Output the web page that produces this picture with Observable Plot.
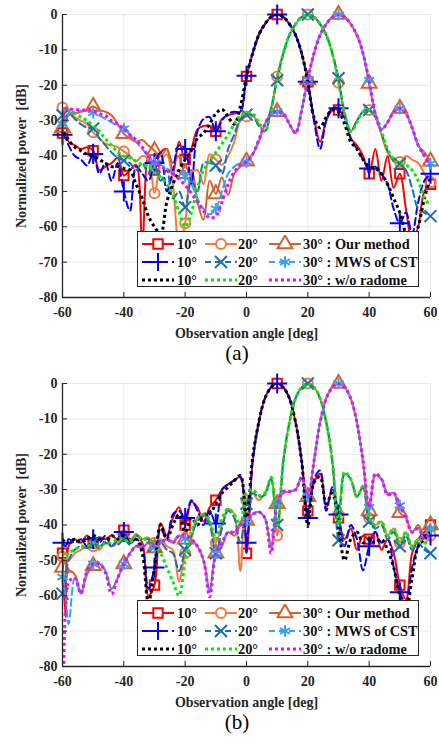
<!DOCTYPE html>
<html><head><meta charset="utf-8">
<script src="https://cdn.jsdelivr.net/npm/d3@7"></script>
<script src="https://cdn.jsdelivr.net/npm/@observablehq/plot@0.6"></script>
<style>
body{margin:0;background:#fff;font-family:"Liberation Serif","Times New Roman",serif;}
.panel{position:relative;width:439px;height:369px;}
.cap{position:absolute;left:0;width:474px;text-align:center;font-size:21px;line-height:20px;top:343px;}
.legend{position:absolute;left:137px;top:231px;width:282px;height:56px;background:#fff;border:1.2px solid #262626;box-sizing:border-box;}
.lrow{position:absolute;left:0;height:18px;width:100%;}
.ltxt{position:absolute;font-weight:bold;font-size:14.3px;line-height:18px;top:0;color:#111;white-space:nowrap;}
.lsw{position:absolute;top:0;}
</style></head><body>
<div id="pa" class="panel"></div>
<div id="pb" class="panel"></div>
<script>
// ---------- data ----------
const angles = [-60,-59,
 -58,-56,-54,-52,-50,-48,-46,-44,-42,-40,
 -38,-36,-34,-32,-30,-28,-26,-24,-22,-20,
 -18,-16,-14,-12,-10,-8,-6,-4,-2,0,
 2,4,6,8,10,12,14,16,18,20,
 22,24,26,28,30,32,34,36,38,40,
 42,44,46,48,50,52,54,56,58,60];
const xTicks = [-60,-40,-20,0,20,40,60];
const yTicks = [0,-10,-20,-30,-40,-50,-60,-70,-80];

// panel (a)
const a_our10 = [-33.5,-34,
 -36,-37,-38,-37.5,-38.5,-44,-43,-42,-40.5,-45.5,
 -44,-42.5,-65,-40,-44,-39,-38,-45,-36,-41,
 -38,-32.5,-31.5,-31.5,-33,-29.5,-28.5,-28,-27.5,-17.5,
 -11,-5.8,-2.7,-0.7,0,-0.7,-2.7,-5.8,-11,-19,
 -29,-36,-30,-27,-27,-29,-35,-37,-40,-45,
 -38,-47,-40,-49,-45,-55,-64,-60,-50,-48];
const a_our20 = [-26.3,-26.8,
 -27.5,-29,-30,-31,-33.3,-35,-36.5,-37,-37.5,-38.7,
 -40,-41.5,-40,-41,-50.5,-42,-39.5,-48,-65,-59,
 -45,-44,-48,-39.5,-41,-42.5,-40,-36,-30,-28.8,
 -28.5,-31,-33,-27,-17.5,-11,-5.8,-2.7,-0.7,0,
 -0.7,-2.7,-5.8,-11,-19.3,-28,-33,-30,-27.5,-27,
 -28.5,-34,-39,-41,-41.7,-40,-41,-42,-45,-47.4];
const a_our30 = [-32,-30,
 -28.5,-28,-27.5,-27,-26,-27,-27.5,-28.5,-31,-33.7,
 -35,-36,-35.5,-37,-38.5,-40,-38,-42,-40,-45,
 -44,-53,-58,-47,-50.7,-46,-51,-45,-43,-41.5,
 -39.5,-36,-31,-28,-27.5,-28,-31,-33.5,-27,-18.5,
 -11,-5.8,-2.7,-0.7,0,-0.7,-2.7,-5.8,-11,-19.5,
 -28,-32.5,-30.5,-27.5,-26.6,-28,-32,-37,-39,-41.5];
const a_cst10 = [-34,-35,
 -37,-40,-41,-42.7,-39.4,-45,-42,-47,-42,-50,
 -55.5,-43,-45,-47,-42,-39,-50,-44,-37,-38,
 -48,-33,-29.5,-29,-33,-30,-28,-27.5,-27.5,-17.3,
 -11,-5.8,-2.7,-0.7,0,-0.7,-2.7,-5.8,-11,-19,
 -30,-38,-30,-26.5,-26.5,-29,-35,-38,-41,-43.5,
 -43,-45,-48,-55,-59,-56,-62,-53,-47,-45];
const a_cst20 = [-28.5,-28.8,
 -28,-29.5,-31,-32,-32.2,-35,-37,-39,-40.5,-41.3,
 -42,-44,-42,-45,-43,-47,-44,-52,-50,-54.5,
 -47,-50,-42,-42,-42.7,-45,-38,-34,-29.5,-28.3,
 -28.5,-31.5,-33,-26.5,-18.6,-11,-5.8,-2.7,-0.7,0,
 -0.7,-2.7,-5.8,-11,-18,-28,-33,-30,-27.5,-27,
 -29,-33.5,-38.5,-41.5,-42.2,-44,-49,-55,-56,-57];
const a_cst30 = [-31,-29,
 -28,-27.5,-27.2,-27.5,-27.8,-28.5,-29.5,-30.5,-31.5,-32.3,
 -34,-36,-38,-40,-41.9,-42.5,-43.5,-44.5,-44,-45.7,
 -48,-52,-55,-56.5,-54.9,-50,-45,-43,-42,-41.7,
 -39.5,-35.5,-31,-28,-27.5,-28,-31,-33.5,-27,-18.3,
 -11,-5.8,-2.7,-0.7,0,-0.7,-2.7,-5.8,-11,-18.6,
 -28,-32.5,-30.5,-27.5,-26.6,-28,-32,-37,-40,-42.2];
const a_wo10 = [-33.5,-34,
 -35.5,-37.5,-38.5,-39.5,-40,-41,-42,-43,-43,-43.5,
 -44,-48,-52,-57,-60,-62,-53,-48,-44,-41,
 -38.5,-35,-33.5,-31,-28,-26.8,-29,-31,-26,-17.5,
 -11,-5.8,-2.7,-0.7,0,-0.7,-2.7,-5.8,-11,-19,
 -29,-32,-29,-27,-27.5,-31,-36,-38,-41,-43,
 -43.5,-45,-48,-52,-56,-62,-65,-60,-52,-46];
const a_wo20 = [-27.5,-27,
 -27,-28,-29,-30,-31.4,-33,-35.2,-37,-38.9,-40,
 -40.5,-41.5,-42.5,-43,-44.6,-46,-48,-51,-56,-60,
 -56,-49,-44,-41.5,-39,-36.5,-34,-31,-28.5,-27.8,
 -28,-30.5,-33,-27,-17.8,-11,-5.8,-2.7,-0.7,0,
 -0.7,-2.7,-5.8,-11,-19,-28,-33,-30.5,-27.5,-27,
 -28.5,-33,-38,-41,-42,-42.5,-44,-47,-52,-54];
const a_wo30 = [-120,-26.5,
 -26.7,-26.8,-27,-27,-27.2,-28,-28.6,-30,-31,-32.3,
 -34,-35.5,-37.5,-40,-41.7,-43,-44,-45,-46.5,-48.3,
 -50.5,-53,-55.5,-57.5,-57,-53,-48,-44.5,-42.5,-41.7,
 -39.5,-35.5,-31,-28,-27.5,-28,-31,-33.5,-27,-18,
 -11,-5.8,-2.7,-0.7,0,-0.7,-2.7,-5.8,-11,-19,
 -28,-32.5,-30.5,-27.5,-26.5,-28,-32,-37,-40,-43];

// panel (b)
const b_our10 = [-48,-66,
 -46,-44,-45,-43,-45,-43.5,-44,-43,-44,-41.5,
 -44,-43,-45,-60,-57,-39.5,-43,-38,-35,-40,
 -33.5,-35,-39,-35,-33,-30,-28.5,-27.4,-26.5,-48,
 -22,-11,-4.2,-1.1,0,-1.1,-4.2,-11,-22,-36,
 -28,-25.5,-35,-30,-38,-44,-41,-47,-43,-44,
 -42,-47,-44,-48,-57,-61,-48,-44,-42,-40];
const b_our20 = [-49,-48,
 -50,-48,-47,-46,-46,-47,-45,-46,-45,-43,
 -44.4,-42.5,-44,-43.5,-45,-44,-46,-47,-56,-48,
 -44,-38,-37,-39,-45,-40,-35.5,-37,-53,-33,
 -31,-33,-31,-27,-43,-22,-11,-4.2,-1.1,0,
 -1.1,-4.2,-11,-22,-37,-25.5,-27,-32,-29,-38,
 -40,-39,-43,-41,-45,-42,-46,-44,-45,-43];
const b_our30 = [-52,-56,
 -53,-54,-59,-54,-51.5,-51,-53,-58,-55,-51,
 -48,-46,-46.5,-45,-46.5,-45,-44,-45,-43,-44,
 -44.5,-46,-50,-58,-48,-46,-42,-43,-40,-38.7,
 -37,-36.3,-38,-46,-34,-31,-30.5,-30,-27,-32,
 -22,-11,-4.2,-1.1,0,-1.1,-4.2,-11,-22,-36,
 -26,-27,-31,-31,-36.5,-38,-42,-40,-43,-40];
const b_cst10 = [-45,-46,
 -44,-45,-44,-46,-44,-45,-43,-46,-44,-42,
 -45,-44,-46,-58,-52,-41,-44,-37,-36,-38,
 -33,-36,-40,-36,-39.6,-30,-28.5,-27.4,-26.3,-45,
 -22,-11,-4.2,-1.1,0,-1.1,-4.2,-11,-22,-38,
 -27,-24.6,-36,-29.3,-37,-46,-40,-44,-52.8,-46,
 -42,-45,-44,-52,-59,-62,-52,-46,-43,-43];
const b_cst20 = [-59.4,-55,
 -50,-47,-46,-46.5,-45,-46,-45,-46,-44,-44,
 -45,-43,-44,-44,-46,-45,-47,-48,-53,-47,
 -43,-39,-37.5,-40,-48,-41,-36,-38,-45,-34,
 -31,-32,-31.5,-27,-40,-22,-11,-4.2,-1.1,0,
 -1.1,-4.2,-11,-22,-44.3,-25.5,-27,-32,-29.5,-39,
 -41,-40,-44,-42,-46,-43,-47,-45,-47,-48];
const b_cst30 = [-54.7,-60,
 -68,-55,-59.4,-53,-51,-50.5,-53,-58,-55,-51,
 -48,-46,-46,-45,-46.2,-45,-44,-44.5,-43,-43.9,
 -44,-46,-50,-59,-48,-45,-42,-42,-40,-38.7,
 -37,-36.3,-38,-47,-34,-30.5,-30.5,-30,-26.5,-32,
 -22,-11,-4.2,-1.1,0,-1.1,-4.2,-11,-22,-35,
 -25.5,-27,-31.5,-31,-34.5,-38,-42,-41,-44,-41];
const b_wo10 = [-44,-45,
 -45,-44,-45,-44,-43,-44,-45,-43,-44,-43,
 -45,-44,-48,-62,-52,-40,-44,-40,-37,-42,
 -38,-40,-37,-36.8,-34,-31,-29.3,-27.5,-26,-38,
 -21,-11,-4.2,-1.1,0,-1.1,-4.2,-11,-22,-40,
 -28,-26.4,-34,-31,-41,-50,-44,-42,-45,-44,
 -45,-44,-47,-52,-60,-64,-55,-46,-44,-42];
const b_wo20 = [-50,-49,
 -48,-47,-46,-46,-45,-46,-45,-45,-44,-44,
 -45,-43,-44,-44,-46,-48,-52,-56,-60,-50,
 -42,-38,-37,-38.7,-44,-38,-35.5,-37,-40,-31,
 -30,-31.6,-31,-26.5,-40,-22,-11,-4.2,-1.1,0,
 -1.1,-4.2,-11,-22,-40,-25,-27,-32,-29,-38,
 -40,-39,-43,-41,-45,-42,-46,-44,-45,-45];
const b_wo30 = [-120,-63,
 -56,-55,-59.4,-53,-51,-51,-53.5,-59.5,-55,-51,
 -48,-46,-46,-45,-46,-45,-44,-45,-43,-43,
 -44,-46,-50,-60.3,-48,-45,-42,-42,-40,-38.5,
 -37,-36.3,-38,-48,-34,-30.5,-30.5,-30,-26.5,-32,
 -22,-11,-4.2,-1.1,0,-1.1,-4.2,-11,-22,-35,
 -25.5,-27,-31.5,-31,-34.5,-38,-42,-41,-44,-42];

// ---------- series styling ----------
const seriesStyle = [
  {key:"our10", label:"10°", stroke:"#ff0000", dash:null, width:2, symbol:"square", sym:d3.symbolSquare, r:5.3},
  {key:"our20", label:"20°", stroke:"#f57a3d", dash:null, width:2, symbol:"circle", sym:d3.symbolCircle, r:5},
  {key:"our30", label:"30° : Our method", stroke:"#d6612b", dash:null, width:2, symbol:"triangle", sym:d3.symbolTriangle, r:5.5},
  {key:"cst10", label:"10°", stroke:"#0000ff", dash:"7,4", width:2, symbol:"plus", sym:d3.symbolPlus, r:6.5},
  {key:"cst20", label:"20°", stroke:"#1b6fb4", dash:"7,4", width:2, symbol:"times", sym:d3.symbolTimes, r:5.5},
  {key:"cst30", label:"30° : MWS of CST", stroke:"#36a3f2", dash:"7,4", width:2, symbol:"asterisk", sym:d3.symbolAsterisk, r:5.5},
  {key:"wo10", label:"10°", stroke:"#000000", dash:"3,3", width:3, symbol:null},
  {key:"wo20", label:"20°", stroke:"#00ee00", dash:"3,3", width:3, symbol:null},
  {key:"wo30", label:"30° : w/o radome", stroke:"#ff00ff", dash:"3,3", width:3, symbol:null}
];

function makePanel(id, seriesVals, caption) {
  const marks = [
    Plot.gridX(xTicks, {stroke:"#000", strokeOpacity:0.09}),
    Plot.gridY(yTicks, {stroke:"#000", strokeOpacity:0.09}),
  ];
  seriesStyle.forEach((s, i) => {
    const rows = angles.map((a, j) => ({a, v: seriesVals[i][j]}));
    marks.push(Plot.line(rows, {x:"a", y:"v", stroke:s.stroke, strokeWidth:s.width,
      strokeDasharray:s.dash, curve:"catmull-rom", clip:true,
      strokeLinecap: s.dash && s.width === 3 ? "butt" : "round"}));
    if (s.symbol) {
      marks.push(Plot.dot(rows.filter(d => d.a % 10 === 0 && d.v >= -80), {x:"a", y:"v", symbol:s.symbol,
        r:s.r, stroke:s.stroke, fill:"none", strokeWidth:2}));
    }
  });
  marks.push(Plot.ruleX([-60], {stroke:"#262626", strokeWidth:1.3}));
  marks.push(Plot.ruleY([-80], {stroke:"#262626", strokeWidth:1.3}));
  marks.push(Plot.axisX(xTicks, {tickSize:-5, tickPadding:15, tickFormat:d => String(d),
    label:"Observation angle [deg]", labelAnchor:"center", labelOffset:40, labelArrow:"none",
    fontSize:14, fontWeight:"bold", stroke:"#262626"}));
  marks.push(Plot.axisY(yTicks, {tickSize:-5, tickPadding:10, tickFormat:d => String(d),
    label:"Normalized power  [dB]", labelAnchor:"center", labelOffset:46, labelArrow:"none",
    fontSize:14, fontWeight:"bold", stroke:"#262626"}));
  const chart = Plot.plot({
    width:439, height:345, marginTop:14, marginBottom:48, marginLeft:62, marginRight:9,
    x:{domain:[-60,60]}, y:{domain:[-80,0]},
    style:{fontFamily:"'Liberation Serif','Times New Roman',serif", fontSize:"15px", color:"#262626", background:"#fff", overflow:"visible"},
    marks
  });
  const host = document.getElementById(id);
  host.appendChild(chart);
  // legend
  const lg = document.createElement("div");
  lg.className = "legend";
  const colX = [[3,39],[66,100],[130,165]];
  for (let r = 0; r < 3; r++) {
    const row = document.createElement("div");
    row.className = "lrow"; row.style.top = (3 + r*18) + "px";
    for (let c = 0; c < 3; c++) {
      const s = seriesStyle[r*3 + c];
      const sw = d3.create("svg").attr("class","lsw").attr("width",34).attr("height",18)
        .style("left", colX[c][0] + "px");
      sw.append("line").attr("x1",1).attr("x2",33).attr("y1",9).attr("y2",9)
        .attr("stroke", s.stroke).attr("stroke-width", s.width)
        .attr("stroke-dasharray", s.dash ? (s.width===3 ? "3,3" : "6,4") : null);
      if (s.sym) {
        const size = Math.PI * s.r * s.r;
        sw.append("path").attr("d", d3.symbol(s.sym, size)()).attr("transform","translate(17,9)")
          .attr("fill", s.dash ? "none" : "#fff").attr("stroke", s.stroke).attr("stroke-width", 2);
      }
      row.appendChild(sw.node());
      const t = document.createElement("div");
      t.className = "ltxt"; t.style.left = colX[c][1] + "px"; t.textContent = s.label;
      row.appendChild(t);
    }
    lg.appendChild(row);
  }
  host.appendChild(lg);
  const cap = document.createElement("div");
  cap.className = "cap"; cap.textContent = caption;
  host.appendChild(cap);
}

makePanel("pa", [a_our10,a_our20,a_our30,a_cst10,a_cst20,a_cst30,a_wo10,a_wo20,a_wo30], "(a)");
makePanel("pb", [b_our10,b_our20,b_our30,b_cst10,b_cst20,b_cst30,b_wo10,b_wo20,b_wo30], "(b)");
</script>
</body></html>
